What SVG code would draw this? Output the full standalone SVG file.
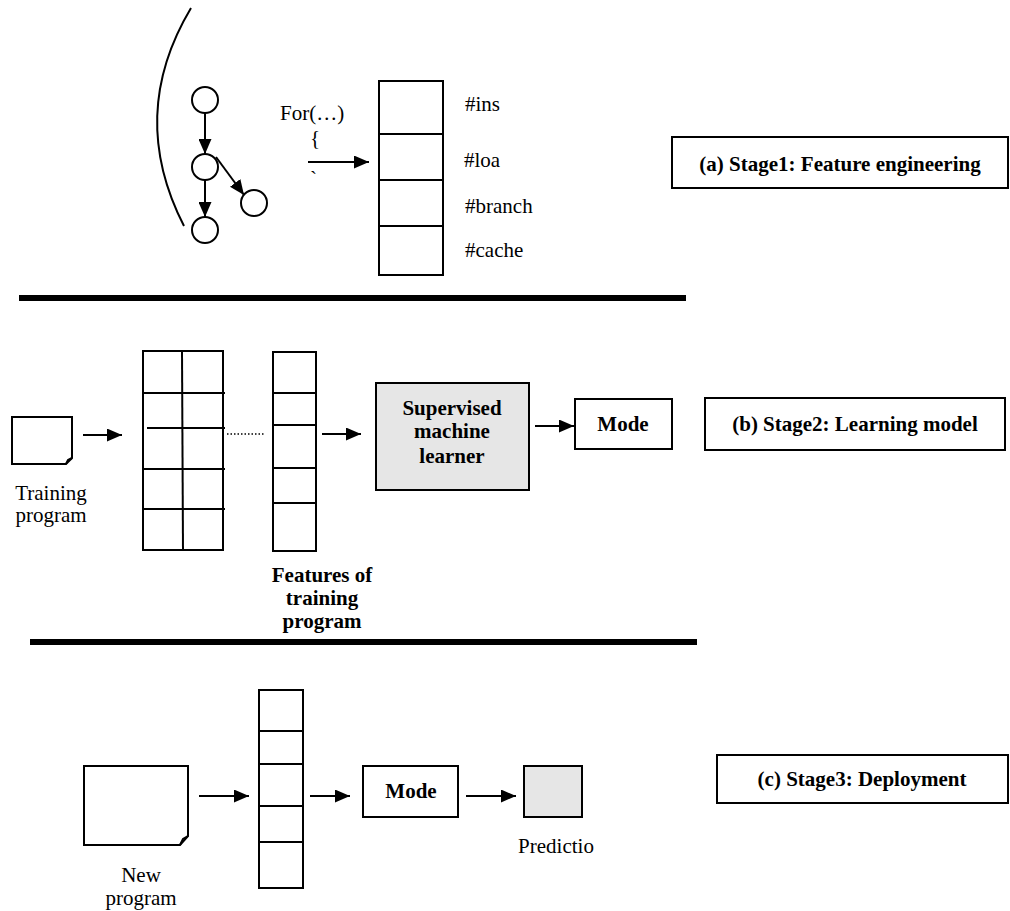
<svg xmlns="http://www.w3.org/2000/svg" width="1010" height="911" viewBox="0 0 1010 911">
<defs>
<style>
.s{fill:none;stroke:#000;stroke-width:2}
.w{fill:#fff;stroke:#000;stroke-width:2}
.g{fill:#e6e6e6;stroke:#000;stroke-width:2}
.t{font-family:"Liberation Serif","Times New Roman",serif;font-size:21px;fill:#000}
.b{font-family:"Liberation Serif","Times New Roman",serif;font-size:21px;font-weight:bold;fill:#000}
.c{text-anchor:middle}
.bar{fill:#000}
</style>
<marker id="ah" viewBox="0 0 15 13" refX="15" refY="6.5" markerWidth="15" markerHeight="13" markerUnits="userSpaceOnUse" orient="auto">
<path d="M0,0 L15,6.5 L0,13 z" fill="#000"/>
</marker>
</defs>
<rect width="1010" height="911" fill="#fff"/>

<!-- Stage 1 -->
<g id="cfg">
<path class="s" d="M191,8 Q127,115 184,226"/>
<circle id="n1" class="w" cx="205" cy="100" r="13"/>
<circle id="n2" class="w" cx="205" cy="167" r="13"/>
<circle id="n3" class="w" cx="205" cy="230" r="13"/>
<circle id="n4" class="w" cx="254" cy="203" r="13"/>
</g>
<g id="code">
<text class="t" x="280" y="120">For(…)</text>
<text class="t" x="310" y="145">{</text>
<text class="t" x="310" y="186">`</text>
</g>
<g id="featvec1">
<rect class="w" x="379" y="81" width="64" height="194"/>
<line class="s" x1="379" y1="134" x2="443" y2="134"/>
<line class="s" x1="379" y1="180" x2="444" y2="180"/>
<line class="s" x1="379" y1="226" x2="444" y2="226"/>
<text class="t" x="465" y="111">#ins</text>
<text class="t" x="464" y="167">#loa</text>
<text class="t" x="465" y="213">#branch</text>
<text class="t" x="465" y="257">#cache</text>
</g>
<g id="stage1">
<rect class="w" x="672" y="137" width="336" height="51"/>
<text class="b c" x="840" y="171">(a) Stage1: Feature engineering</text>
</g>
<rect class="bar" x="19" y="295" width="667" height="6"/>

<!-- Stage 2 -->
<g id="trainprog">
<path class="w" d="M12,417 H72 V458 L66,464 H12 Z"/>
<path class="s" d="M72,458 L68,460 L66,464" stroke-width="1.5"/>
<text class="t c" x="51" y="500">Training</text>
<text class="t c" x="51" y="522">program</text>
</g>
<g id="grid">
<rect class="w" x="143" y="351" width="80" height="199"/>
<line class="s" x1="182" y1="351" x2="183" y2="550"/>
<line class="s" x1="142" y1="393" x2="225" y2="393"/>
<line class="s" x1="147" y1="428" x2="225" y2="428"/>
<line class="s" x1="143" y1="469" x2="225" y2="469"/>
<line class="s" x1="143" y1="509" x2="225" y2="509"/>
</g>
<g id="featvec2">
<rect class="w" x="273" y="352" width="43" height="199"/>
<line class="s" x1="273" y1="393" x2="316" y2="393"/>
<line class="s" x1="273" y1="425" x2="316" y2="425"/>
<line class="s" x1="273" y1="468" x2="316" y2="468"/>
<line class="s" x1="273" y1="503" x2="316" y2="503"/>
<text class="b c" x="322" y="582">Features of</text>
<text class="b c" x="322" y="605">training</text>
<text class="b c" x="322" y="628">program</text>
</g>
<g id="learner">
<rect class="g" x="376" y="383" width="153" height="107"/>
<text class="b c" x="452" y="415">Supervised</text>
<text class="b c" x="452" y="438">machine</text>
<text class="b c" x="452" y="463">learner</text>
</g>
<g id="model1">
<rect class="w" x="575" y="399" width="97" height="50"/>
<text class="b c" x="623" y="431">Mode</text>
</g>
<g id="stage2">
<rect class="w" x="705" y="398" width="300" height="52"/>
<text class="b c" x="855" y="431">(b) Stage2: Learning model</text>
</g>
<rect class="bar" x="30" y="639" width="667" height="6"/>

<!-- Stage 3 -->
<g id="newprog">
<path class="w" d="M84,766 H188 V836 L180,845 H84 Z"/>
<path class="s" d="M188,836 L183,839 L180,845" stroke-width="1.5"/>
<text class="t c" x="141" y="882">New</text>
<text class="t c" x="141" y="905">program</text>
</g>
<g id="featvec3">
<rect class="w" x="259" y="690" width="44" height="198"/>
<line class="s" x1="259" y1="731" x2="303" y2="731"/>
<line class="s" x1="259" y1="764" x2="303" y2="764"/>
<line class="s" x1="259" y1="806" x2="303" y2="806"/>
<line class="s" x1="259" y1="842" x2="303" y2="842"/>
</g>
<g id="model2">
<rect class="w" x="363" y="766" width="95" height="51"/>
<text class="b c" x="411" y="798">Mode</text>
</g>
<g id="prediction">
<rect class="g" x="524" y="766" width="58" height="51"/>
<text class="t c" x="556" y="853">Predictio</text>
</g>
<g id="stage3">
<rect class="w" x="717" y="755" width="291" height="48"/>
<text class="b c" x="862" y="786">(c) Stage3: Deployment</text>
</g>

<g id="connectors" class="s">
<line x1="205" y1="113" x2="205" y2="154" marker-end="url(#ah)"/>
<line x1="205" y1="180" x2="205" y2="217" marker-end="url(#ah)"/>
<line x1="216" y1="157" x2="244" y2="195" marker-end="url(#ah)"/>
<line x1="308" y1="162" x2="369" y2="162" marker-end="url(#ah)"/>
<line x1="83" y1="435" x2="122" y2="435" marker-end="url(#ah)"/>
<line x1="227" y1="434" x2="265" y2="434" stroke-width="1.5" stroke-dasharray="1.5,2"/>
<line x1="322" y1="434" x2="361" y2="434" marker-end="url(#ah)"/>
<line x1="535" y1="426" x2="574" y2="426" marker-end="url(#ah)"/>
<line x1="199" y1="796" x2="249" y2="796" marker-end="url(#ah)"/>
<line x1="310" y1="796" x2="350" y2="796" marker-end="url(#ah)"/>
<line x1="466" y1="796" x2="516" y2="796" marker-end="url(#ah)"/>
</g>
</svg>
